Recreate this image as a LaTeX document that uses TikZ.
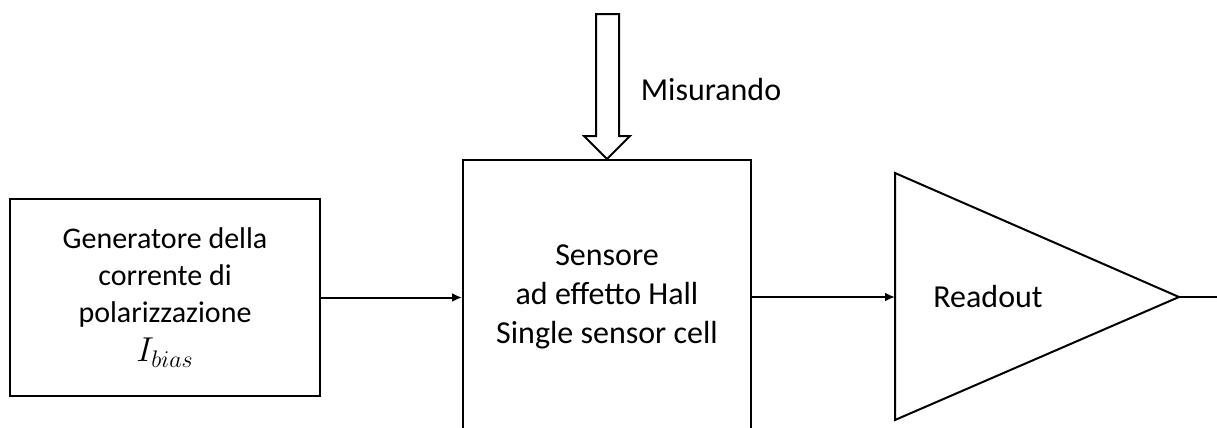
\documentclass[tikz,border=0pt]{standalone}
\usepackage{fontspec}
\setmainfont{Carlito}
\usetikzlibrary{arrows.meta,positioning,calc}
\tikzset{
  block/.style={draw,line width=1pt,align=center,inner sep=0pt,%
    font=\fontsize{16}{19.5}\selectfont},
  label/.style={font=\fontsize{16}{19.5}\selectfont,inner sep=0pt},
  flow/.style={-{Latex[length=5pt,width=4.5pt]},line width=1pt},
}

\begin{document}
\begin{tikzpicture}[x=0.5pt,y=-0.5pt]
\useasboundingbox (0,0) rectangle (1217,428);
\clip (0,0) rectangle (1217,428);
\node[block,minimum width=155pt,minimum height=98.5pt,%
  font=\fontsize{15}{18.5}\selectfont] (gen) at (165,297.5)
  {Generatore della\\corrente di\\polarizzazione\\[1pt]%
   {\fontsize{17}{19}\selectfont$I_{bias}$}};
\node[block,minimum width=144pt,minimum height=137pt] (sens) at (607,297)
  {Sensore\\ad effetto Hall\\Single sensor cell};
\node[label] (mis) at (711,90) {Misurando};
% amplificatore
\coordinate (rtop) at (895,173);
\coordinate (rbot) at (895,420);
\coordinate (rtip) at (1179,297);
\coordinate (rin) at (895,297);
\coordinate (out) at (1217,297);
\draw[line width=1pt,line join=miter] (rtop) -- (rtip) -- (rbot) -- cycle;
\node[label] (ro) at (988,297) {Readout};
% freccia misurando
\draw[line width=1pt] (sens.north) -- ++(-23,-23) -- ++(12,0) -- ++(0,-122)
  -- ++(23,0) -- ++(0,122) -- ++(11,0) -- cycle;
\draw[flow] (gen.east) -- (sens.west |- gen.east);
\draw[flow] (sens.east |- rin) -- (rin);
\draw[line width=1pt] (rtip) -- (out);
\end{tikzpicture}
\end{document}
